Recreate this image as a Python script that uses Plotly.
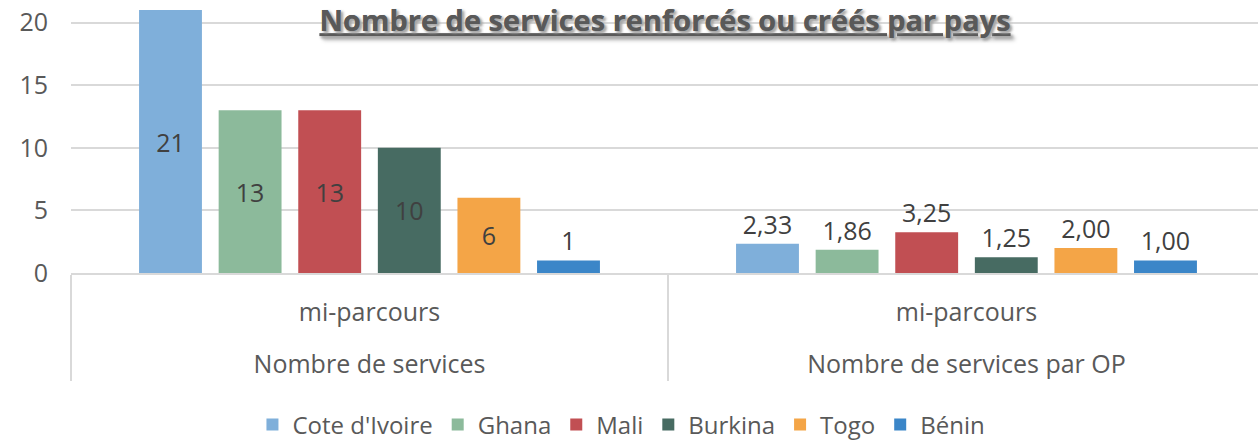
import plotly.graph_objects as go

countries = ["Cote d'Ivoire", "Ghana", "Mali", "Burkina", "Togo", "Bénin"]
groups = ["Nombre de services", "Nombre de services par OP"]
periods = ["mi-parcours", "mi-parcours"]
nb_services = [21, 13, 13, 10, 6, 1]
nb_services_par_op = [2.33, 1.86, 3.25, 1.25, 2.00, 1.00]
colors = ["#7FAFDA", "#8CBA9B", "#C14F53", "#476B62", "#F4A547", "#3B86C8"]

FONT = "Open Sans"
TXT = "#595959"

outer_labels = ["<br>" + g for g in groups]

fig = go.Figure()
for i, c in enumerate(countries):
    vals = [nb_services[i], nb_services_par_op[i]]
    pos1 = "outside" if nb_services[i] < 3 else "inside"
    fig.add_trace(go.Bar(
        name=c,
        x=[outer_labels, periods],
        y=vals,
        marker=dict(color=colors[i], line=dict(width=0)),
        texttemplate=["%{y:.0f}", "%{y:.2f}"],
        textposition=[pos1, "outside"],
        insidetextanchor="middle",
        textfont=dict(family=FONT, size=25, color="#404040"),
        constraintext="none",
        cliponaxis=False,
    ))

fig.update_layout(
    width=1258, height=440,
    margin=dict(l=71, r=0, t=9.5, b=167),
    paper_bgcolor="white", plot_bgcolor="white",
    separators=", ",
    barmode="group", bargap=0.2, bargroupgap=0.21,
    font=dict(family=FONT, size=25, color=TXT),
    title=dict(
        text="<b>Nombre de services renforcés ou créés par pays</b>",
        xref="container", yref="container",
        x=0.5286, y=1 - 21 / 440, xanchor="center", yanchor="middle",
        font=dict(family=FONT, size=29, color=TXT, lineposition="under",
                  shadow="2px 2px 3px #a8a8a8"),
    ),
    legend=dict(
        orientation="h", xref="container", yref="container",
        x=0.494, y=1 - 425 / 440, xanchor="center", yanchor="middle",
        font=dict(family=FONT, size=24, color=TXT),
        itemwidth=30, traceorder="normal",
    ),
    showlegend=True,
)
fig.update_yaxes(
    range=[0, 21], tickvals=[0, 5, 10, 15, 20], automargin=False,
    gridcolor="#D9D9D9", gridwidth=1.5, zeroline=False, showline=False,
    tickfont=dict(family=FONT, size=25, color=TXT), ticklabelstandoff=22,
)
fig.update_xaxes(
    type="multicategory", range=[-0.5, 1.4883],
    showline=True, linecolor="#D9D9D9", linewidth=1.5,
    showdividers=True, dividercolor="#D9D9D9", dividerwidth=1.5, automargin=False,
    ticks="", tickfont=dict(family=FONT, size=25, color=TXT), ticklabelstandoff=16,
)

fig.write_html("out.html", config={"displayModeBar": False},
               post_script="document.body.style.margin='0';")
